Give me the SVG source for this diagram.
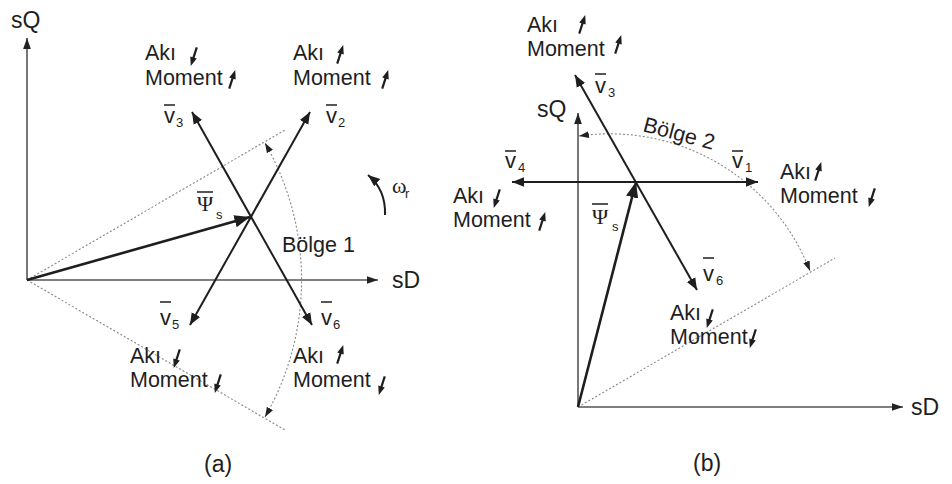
<svg xmlns="http://www.w3.org/2000/svg" xmlns:xlink="http://www.w3.org/1999/xlink" width="952" height="484" viewBox="0 0 952 484">
<style>
.t{font-family:"Liberation Sans",Arial,sans-serif;font-size:21.5px;fill:#1e1e1e}
.big{font-family:"Liberation Sans",Arial,sans-serif;font-size:23px;fill:#1e1e1e}
.v{font-family:"Liberation Sans",Arial,sans-serif;font-size:22px;fill:#1e1e1e}
.sub{font-family:"Liberation Sans",Arial,sans-serif;font-size:13px;fill:#1e1e1e}
.gr{font-family:"Liberation Serif","Times New Roman",serif;font-size:22px;fill:#1e1e1e}
.ax{stroke:#555;stroke-width:1.6;fill:none}
.vec{stroke:#1e1e1e;stroke-width:2;fill:none}
.psi{stroke:#1e1e1e;stroke-width:2.6;fill:none}
.dot{stroke:#888;stroke-width:1.1;fill:none;stroke-dasharray:2 2}
.bar{stroke:#1e1e1e;stroke-width:1.5}
</style>
<defs>
<marker id="ah" viewBox="0 0 10 10" refX="10" refY="5" markerWidth="6" markerHeight="6" orient="auto-start-reverse" markerUnits="strokeWidth">
<path d="M0,1 L10,5 L0,9 Z" fill="#1e1e1e"/>
</marker>
<marker id="ahx" viewBox="0 0 10 10" refX="10" refY="5" markerWidth="7" markerHeight="7" orient="auto-start-reverse" markerUnits="strokeWidth">
<path d="M0,1.5 L10,5 L0,8.5 Z" fill="#222"/>
</marker>
<marker id="ahd" viewBox="0 0 10 10" refX="10" refY="5" markerWidth="9" markerHeight="9" orient="auto-start-reverse" markerUnits="strokeWidth">
<path d="M0,1.5 L10,5 L0,8.5 Z" fill="#222"/>
</marker>
<g id="ua">
<line x1="0" y1="9" x2="0" y2="-3" stroke="#1e1e1e" stroke-width="2.2"/>
<path d="M-3.4,-1.5 L0,-10.5 L3.4,-1.5 Z" fill="#1e1e1e"/>
</g>
</defs>

<g id="connectors">
<!-- panel a -->
<line class="ax" x1="27" y1="280" x2="27" y2="38" marker-end="url(#ahx)"/>
<line class="ax" x1="27" y1="280" x2="378" y2="280" marker-end="url(#ahx)"/>
<line class="dot" x1="27" y1="280" x2="285" y2="130"/>
<line class="dot" x1="27" y1="280" x2="285" y2="430"/>
<path class="dot" d="M265,417 A275 275 0 0 0 265,143" marker-start="url(#ahd)" marker-end="url(#ahd)"/>
<line class="vec" x1="190" y1="325" x2="310" y2="112" marker-start="url(#ah)" marker-end="url(#ah)"/>
<line class="vec" x1="312" y1="325" x2="192" y2="112" marker-start="url(#ah)" marker-end="url(#ah)"/>
<line class="psi" x1="27" y1="280" x2="250" y2="217" marker-end="url(#ah)"/>
<path class="vec" d="M385,215 Q386,190 368,175" stroke-width="1.8" marker-end="url(#ah)"/>
<!-- panel b -->
<line class="ax" x1="578" y1="407" x2="578" y2="113" marker-end="url(#ahx)"/>
<line class="ax" x1="578" y1="407" x2="903" y2="407" marker-end="url(#ahx)"/>
<line class="dot" x1="578" y1="407" x2="835" y2="258"/>
<path class="dot" d="M579,136 A215 215 0 0 1 810,271" marker-start="url(#ahd)" marker-end="url(#ahd)"/>
<line class="vec" x1="512" y1="182" x2="758" y2="182" marker-start="url(#ah)" marker-end="url(#ah)"/>
<line class="vec" x1="575" y1="75" x2="697" y2="290" marker-start="url(#ah)" marker-end="url(#ah)"/>
<line class="psi" x1="578" y1="407" x2="636" y2="182" marker-end="url(#ah)"/>
</g>

<g id="axis-labels">
<text class="big" x="11" y="28">sQ</text>
<text class="big" x="392" y="288">sD</text>
<text class="big" x="537" y="117">sQ</text>
<text class="big" x="911" y="415">sD</text>
<text class="big" x="204" y="472">(a)</text>
<text class="big" x="693" y="471">(b)</text>
</g>

<g id="vector-labels">
<text class="v" x="164" y="123">v</text><line class="bar" x1="164" y1="105" x2="175" y2="105"/><text class="sub" x="176" y="127">3</text>
<text class="v" x="326" y="123">v</text><line class="bar" x1="326" y1="105" x2="337" y2="105"/><text class="sub" x="338" y="127">2</text>
<text class="v" x="160" y="325">v</text><line class="bar" x1="160" y1="302" x2="171" y2="302"/><text class="sub" x="172" y="329">5</text>
<text class="v" x="321" y="325">v</text><line class="bar" x1="321" y1="302" x2="332" y2="302"/><text class="sub" x="333" y="329">6</text>
<text class="gr" x="197" y="211">Ψ</text><line class="bar" x1="197" y1="192" x2="213" y2="192"/><text class="sub" x="216" y="219">s</text>
<text class="v" x="595" y="93">v</text><line class="bar" x1="595" y1="74" x2="606" y2="74"/><text class="sub" x="608" y="97">3</text>
<text class="v" x="505" y="168">v</text><line class="bar" x1="505" y1="151" x2="516" y2="151"/><text class="sub" x="518" y="172">4</text>
<text class="v" x="732" y="168">v</text><line class="bar" x1="732" y1="151" x2="743" y2="151"/><text class="sub" x="745" y="172">1</text>
<text class="v" x="703" y="281">v</text><line class="bar" x1="703" y1="258" x2="714" y2="258"/><text class="sub" x="716" y="285">6</text>
<text class="gr" x="592" y="224">Ψ</text><line class="bar" x1="592" y1="204" x2="608" y2="204"/><text class="sub" x="612" y="231">s</text>
<text class="gr" x="392" y="193">ω</text><text class="sub" x="405" y="198">r</text>
</g>

<g id="regions">
<text class="t" x="282" y="252">Bölge 1</text>
<text class="t" transform="translate(642,131) rotate(15)">Bölge 2</text>
</g>

<g id="label-a-v3">
<text class="t" x="145" y="60">Akı</text><text class="t" x="145" y="85">Moment</text>
<use xlink:href="#ua" transform="translate(194,56) rotate(198)"/>
<use xlink:href="#ua" transform="translate(232,80) rotate(18)"/>
</g>
<g id="label-a-v2">
<text class="t" x="293" y="60">Akı</text><text class="t" x="293" y="85">Moment</text>
<use xlink:href="#ua" transform="translate(340,55) rotate(18)"/>
<use xlink:href="#ua" transform="translate(385,80) rotate(18)"/>
</g>
<g id="label-a-v5">
<text class="t" x="130" y="363">Akı</text><text class="t" x="130" y="387">Moment</text>
<use xlink:href="#ua" transform="translate(177,358) rotate(198)"/>
<use xlink:href="#ua" transform="translate(218,383) rotate(198)"/>
</g>
<g id="label-a-v6">
<text class="t" x="293" y="363">Akı</text><text class="t" x="293" y="387">Moment</text>
<use xlink:href="#ua" transform="translate(340,355) rotate(18)"/>
<use xlink:href="#ua" transform="translate(382,385) rotate(198)"/>
</g>
<g id="label-b-v3">
<text class="t" x="527" y="32">Akı</text><text class="t" x="527" y="56">Moment</text>
<use xlink:href="#ua" transform="translate(582,25) rotate(18)"/>
<use xlink:href="#ua" transform="translate(618,45) rotate(18)"/>
</g>
<g id="label-b-v4">
<text class="t" x="453" y="203">Akı</text><text class="t" x="453" y="227">Moment</text>
<use xlink:href="#ua" transform="translate(497,198) rotate(198)"/>
<use xlink:href="#ua" transform="translate(542,222) rotate(18)"/>
</g>
<g id="label-b-v1">
<text class="t" x="780" y="179">Akı</text><text class="t" x="780" y="203">Moment</text>
<use xlink:href="#ua" transform="translate(818,172) rotate(18)"/>
<use xlink:href="#ua" transform="translate(872,197) rotate(198)"/>
</g>
<g id="label-b-v6">
<text class="t" x="670" y="320">Akı</text><text class="t" x="670" y="344">Moment</text>
<use xlink:href="#ua" transform="translate(710,318) rotate(198)"/>
<use xlink:href="#ua" transform="translate(753,338) rotate(198)"/>
</g>
</svg>
